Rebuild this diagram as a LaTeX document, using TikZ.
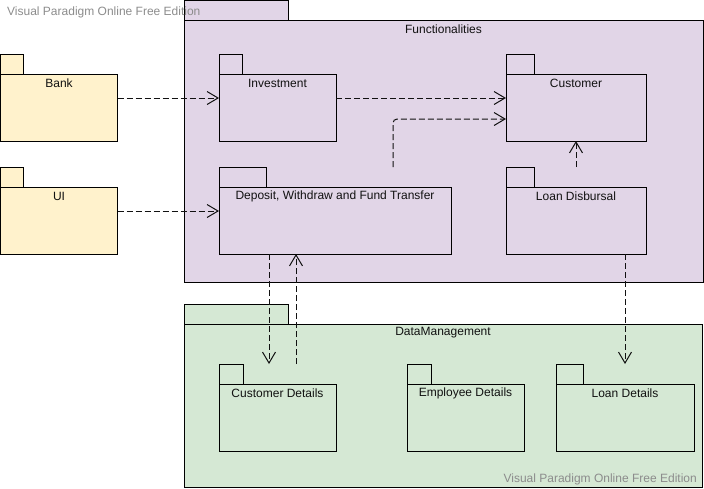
\documentclass[tikz,border=0pt]{standalone}
\usepackage{fontspec}
\setmainfont{Liberation Sans}
\usetikzlibrary{arrows.meta}
\definecolor{pyellow}{HTML}{FFF2CC}
\definecolor{ppurple}{HTML}{E1D5E7}
\definecolor{pgreen}{HTML}{D5E8D4}
\definecolor{lncol}{HTML}{111111}
\definecolor{wmcol}{HTML}{8C8C8C}
\tikzset{
  pkgbody/.style={draw=black, line width=1pt, inner sep=0pt, outer sep=0pt, anchor=north west},
  pkgtab/.style={draw=black, line width=1pt, inner sep=0pt, outer sep=0pt, anchor=south west, minimum height=20pt},
  lbl/.style={font=\fontsize{12}{14}\selectfont, text=lncol, inner sep=0pt},
  wm/.style={font=\fontsize{12}{14}\selectfont, text=wmcol, inner sep=0pt},
  dep/.style={draw=lncol, line width=1pt, dash pattern=on 6pt off 3pt, -{Straight Barb[length=11pt,width=13pt,line width=1pt]}}
}
\begin{document}
\begin{tikzpicture}[x=1pt,y=-1pt]
\useasboundingbox (0,0) rectangle (704,488);
% containers
\node[pkgbody, fill=ppurple, minimum width=519pt, minimum height=262pt] (fun) at (184,20) {};
\node[pkgtab, fill=ppurple, minimum width=104pt] (funtab) at (fun.north west) {};
\node[lbl] (funlbl) at (443.5,29) {Functionalities};
\node[pkgbody, fill=pgreen, minimum width=518pt, minimum height=163pt] (dm) at (184,324) {};
\node[pkgtab, fill=pgreen, minimum width=104pt] (dmtab) at (dm.north west) {};
\node[lbl] (dmlbl) at (443,333) {DataManagement};
% watermarks
\node[wm, anchor=west] (wm1) at (7,12) {Visual Paradigm Online Free Edition};
\node[wm, anchor=east] (wm2) at (697,479) {Visual Paradigm Online Free Edition};
% packages
\node[pkgbody, fill=pyellow, minimum width=117pt, minimum height=67pt] (bank) at (0.5,74) {};
\node[pkgtab, fill=pyellow, minimum width=23pt] (banktab) at (bank.north west) {};
\node[lbl] (banklbl) at ([yshift=-9pt]bank.north) {Bank};
\node[pkgbody, fill=pyellow, minimum width=117pt, minimum height=67pt] (ui) at (0.5,187) {};
\node[pkgtab, fill=pyellow, minimum width=23pt] (uitab) at (ui.north west) {};
\node[lbl] (uilbl) at ([yshift=-9pt]ui.north) {UI};
\node[pkgbody, fill=ppurple, minimum width=117pt, minimum height=67pt] (inv) at (219,74) {};
\node[pkgtab, fill=ppurple, minimum width=23pt] (invtab) at (inv.north west) {};
\node[lbl] (invlbl) at ([yshift=-9pt]inv.north) {Investment};
\node[pkgbody, fill=ppurple, minimum width=140pt, minimum height=67pt] (cust) at (506,74) {};
\node[pkgtab, fill=ppurple, minimum width=28pt] (custtab) at (cust.north west) {};
\node[lbl] (custlbl) at ([yshift=-9pt]cust.north) {Customer};
\node[pkgbody, fill=ppurple, minimum width=232pt, minimum height=67pt] (dwf) at (219,187) {};
\node[pkgtab, fill=ppurple, minimum width=47pt] (dwftab) at (dwf.north west) {};
\node[lbl] (dwflbl) at ([yshift=-9pt]dwf.north) {Deposit, Withdraw and Fund Transfer};
\node[pkgbody, fill=ppurple, minimum width=140pt, minimum height=67pt] (ldis) at (506,187) {};
\node[pkgtab, fill=ppurple, minimum width=28pt] (ldistab) at (ldis.north west) {};
\node[lbl] (ldislbl) at ([yshift=-9pt]ldis.north) {Loan Disbursal};
\node[pkgbody, fill=pgreen, minimum width=117pt, minimum height=67pt] (cd) at (219,384) {};
\node[pkgtab, fill=pgreen, minimum width=24pt] (cdtab) at (cd.north west) {};
\node[lbl] (cdlbl) at ([yshift=-9pt]cd.north) {Customer Details};
\node[pkgbody, fill=pgreen, minimum width=117pt, minimum height=67pt] (ed) at (407,384) {};
\node[pkgtab, fill=pgreen, minimum width=24pt] (edtab) at (ed.north west) {};
\node[lbl] (edlbl) at ([yshift=-9pt]ed.north) {Employee Details};
\node[pkgbody, fill=pgreen, minimum width=138pt, minimum height=67pt] (ld) at (556,384) {};
\node[pkgtab, fill=pgreen, minimum width=27pt] (ldtab) at (ld.north west) {};
\node[lbl] (ldlbl) at ([yshift=-9pt]ld.north) {Loan Details};
% connectors
\draw[dep] ([yshift=9.5pt]bank.east) -- ([yshift=9.5pt]inv.west);
\draw[dep] ([yshift=9.5pt]inv.east) -- ([yshift=9.5pt]cust.west);
\draw[dep] ([yshift=9.5pt]ui.east) -- ([yshift=9.5pt]dwf.west);
\coordinate (d1) at ([xshift=58pt]dwf.north |- dwftab.north);
\draw[dep, rounded corners=4pt] (d1) |- ([yshift=-11.5pt]cust.west);
\draw[dep] (ldis.north |- ldistab.north) -- (cust.south);
\draw[dep] ([xshift=-66pt]dwf.south) -- ([xshift=-8.5pt]cd.north |- cdtab.north);
\draw[dep] ([xshift=18.5pt]cd.north |- cdtab.north) -- ([xshift=-39pt]dwf.south);
\draw[dep] ([xshift=49pt]ldis.south) -- (ld.north |- ldtab.north);
\end{tikzpicture}
\end{document}
